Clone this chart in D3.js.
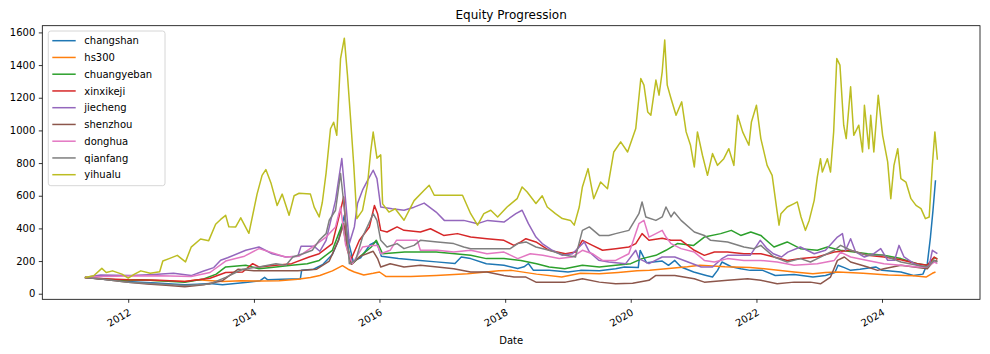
<!DOCTYPE html>
<html><head><meta charset="utf-8">
<script src="https://cdn.jsdelivr.net/npm/d3@7"></script>
<style>body{margin:0;background:#fff}svg{display:block;font-family:"DejaVu Sans",sans-serif}</style>
</head><body><svg id="c" width="990" height="354"></svg>
<script>
const seriesNames = ["changshan","hs300","chuangyeban","xinxikeji","jiecheng","shenzhou","donghua","qianfang","yihualu"];
const colors = ["#1f77b4","#ff7f0e","#2ca02c","#d62728","#9467bd","#8c564b","#e377c2","#7f7f7f","#bcbd22"];
const yTicks = [0,200,400,600,800,1000,1200,1400,1600];
const xTickYears = [2012,2014,2016,2018,2020,2022,2024];

// [decimal year, value]
const changshan = [[2011.31,100],[2011.45,95],[2011.6,88],[2011.8,82],[2012.0,75],[2012.2,70],[2012.45,65],[2012.7,60],[2012.9,55],[2013.1,58],[2013.3,62],[2013.5,55],[2013.7,62],[2013.9,70],[2014.1,80],[2014.17,100],[2014.22,85],[2014.45,88],[2014.6,90],[2014.74,92],[2014.76,143],[2014.95,150],[2015.1,180],[2015.25,240],[2015.35,330],[2015.44,480],[2015.5,330],[2015.58,200],[2015.7,220],[2015.85,300],[2015.95,320],[2016.03,230],[2016.3,215],[2016.6,205],[2016.9,195],[2017.2,185],[2017.3,225],[2017.45,215],[2017.7,184],[2017.98,174],[2018.2,155],[2018.3,165],[2018.37,185],[2018.45,143],[2018.7,143],[2019.0,133],[2019.2,143],[2019.5,140],[2019.76,153],[2019.9,164],[2020.12,160],[2020.15,265],[2020.25,190],[2020.5,200],[2020.6,174],[2020.7,204],[2020.8,164],[2021.0,133],[2021.2,112],[2021.3,102],[2021.38,143],[2021.45,194],[2021.6,165],[2021.75,153],[2021.9,143],[2022.1,143],[2022.3,112],[2022.6,118],[2022.9,102],[2023.1,112],[2023.25,130],[2023.3,174],[2023.4,160],[2023.5,143],[2023.65,150],[2023.9,164],[2024.0,143],[2024.3,133],[2024.5,112],[2024.65,120],[2024.72,184],[2024.77,347],[2024.81,510],[2024.85,695]];
const hs300 = [[2011.31,100],[2011.6,90],[2011.9,80],[2012.2,85],[2012.5,80],[2012.9,75],[2013.1,85],[2013.5,75],[2013.8,80],[2014.1,78],[2014.4,80],[2014.7,88],[2014.9,100],[2015.05,112],[2015.25,140],[2015.41,172],[2015.5,150],[2015.6,133],[2015.75,115],[2015.9,125],[2016.0,133],[2016.1,106],[2016.5,106],[2016.9,112],[2017.4,122],[2017.9,140],[2018.1,143],[2018.5,120],[2018.9,102],[2019.2,125],[2019.5,122],[2019.8,130],[2020.1,140],[2020.3,143],[2020.56,153],[2020.9,165],[2021.1,174],[2021.5,165],[2021.9,160],[2022.2,150],[2022.6,133],[2022.9,122],[2023.1,130],[2023.3,133],[2023.7,125],[2024.1,115],[2024.5,110],[2024.7,102],[2024.8,125],[2024.85,133]];
const chuangyeban = [[2011.31,100],[2011.6,92],[2011.9,82],[2012.2,85],[2012.5,80],[2012.9,70],[2013.2,90],[2013.4,120],[2013.55,164],[2013.87,174],[2014.08,153],[2014.35,164],[2014.6,174],[2014.85,184],[2015.04,204],[2015.25,266],[2015.35,368],[2015.41,429],[2015.47,300],[2015.57,184],[2015.68,225],[2015.87,286],[2015.95,327],[2016.05,245],[2016.4,255],[2016.9,255],[2017.2,245],[2017.45,235],[2017.7,215],[2017.98,215],[2018.25,204],[2018.5,184],[2018.7,164],[2018.95,153],[2019.23,174],[2019.5,164],[2019.76,174],[2020.0,184],[2020.18,215],[2020.4,235],[2020.56,266],[2020.74,307],[2021.0,296],[2021.17,347],[2021.43,368],[2021.6,388],[2021.75,357],[2021.91,378],[2022.07,357],[2022.28,286],[2022.49,317],[2022.7,276],[2022.97,266],[2023.13,286],[2023.34,266],[2023.77,245],[2024.03,235],[2024.3,215],[2024.56,184],[2024.72,174],[2024.83,220],[2024.88,215]];
const xinxikeji = [[2011.31,100],[2011.6,92],[2012.0,85],[2012.5,82],[2012.9,75],[2013.3,95],[2013.55,130],[2013.82,133],[2013.98,184],[2014.08,164],[2014.35,174],[2014.6,184],[2014.88,225],[2015.04,245],[2015.25,307],[2015.38,511],[2015.43,593],[2015.49,266],[2015.54,204],[2015.68,327],[2015.84,409],[2015.92,540],[2015.97,490],[2016.02,388],[2016.12,378],[2016.28,409],[2016.39,388],[2016.65,378],[2016.81,398],[2017.02,357],[2017.24,368],[2017.45,347],[2017.71,337],[2017.98,327],[2018.14,296],[2018.25,317],[2018.33,337],[2018.49,317],[2018.7,266],[2018.96,245],[2019.12,255],[2019.23,327],[2019.39,296],[2019.55,266],[2019.76,276],[2019.97,286],[2020.08,307],[2020.18,368],[2020.29,327],[2020.5,340],[2020.64,327],[2020.8,327],[2021.01,266],[2021.17,235],[2021.33,255],[2021.54,255],[2021.8,245],[2022.07,245],[2022.28,225],[2022.49,204],[2022.71,215],[2022.97,225],[2023.24,255],[2023.5,266],[2023.77,235],[2024.03,225],[2024.3,208],[2024.56,184],[2024.72,174],[2024.83,225],[2024.88,210]];
const jiecheng = [[2011.31,100],[2011.56,115],[2012.04,111],[2012.4,117],[2012.72,125],[2013.0,111],[2013.2,139],[2013.36,160],[2013.47,205],[2013.58,220],[2013.87,266],[2014.08,286],[2014.29,245],[2014.51,225],[2014.7,230],[2014.75,290],[2014.96,290],[2015.05,260],[2015.15,327],[2015.3,572],[2015.4,828],[2015.46,572],[2015.52,307],[2015.6,409],[2015.65,552],[2015.73,634],[2015.82,700],[2015.9,756],[2015.96,705],[2016.02,531],[2016.2,520],[2016.39,511],[2016.55,530],[2016.71,555],[2016.9,500],[2017.03,449],[2017.34,449],[2017.56,429],[2017.72,449],[2017.98,439],[2018.17,490],[2018.27,511],[2018.37,429],[2018.49,347],[2018.59,307],[2018.75,266],[2018.91,235],[2019.07,245],[2019.18,286],[2019.26,317],[2019.34,256],[2019.49,205],[2019.65,194],[2019.92,184],[2020.08,266],[2020.13,215],[2020.29,184],[2020.5,225],[2020.7,225],[2021.12,164],[2021.3,164],[2021.45,215],[2021.54,235],[2021.9,235],[2022.06,327],[2022.17,276],[2022.27,245],[2022.4,225],[2022.5,255],[2022.7,286],[2022.92,245],[2023.1,266],[2023.29,347],[2023.37,368],[2023.42,266],[2023.5,337],[2023.58,256],[2023.72,225],[2023.87,245],[2023.98,276],[2024.09,205],[2024.2,205],[2024.27,296],[2024.35,225],[2024.51,184],[2024.67,164],[2024.75,170],[2024.8,266],[2024.88,245]];
const shenzhou = [[2011.31,100],[2011.6,88],[2012.0,70],[2012.3,60],[2012.6,52],[2012.9,42],[2013.2,55],[2013.5,80],[2013.75,150],[2014.0,140],[2014.3,140],[2014.7,140],[2015.0,150],[2015.2,200],[2015.35,330],[2015.43,430],[2015.55,180],[2015.7,230],[2015.9,260],[2015.97,215],[2016.02,164],[2016.17,184],[2016.39,164],[2016.65,174],[2016.92,164],[2017.18,153],[2017.45,133],[2017.71,133],[2017.98,112],[2018.14,102],[2018.33,102],[2018.49,71],[2018.96,71],[2019.12,82],[2019.23,92],[2019.5,71],[2019.76,61],[2020.03,64],[2020.29,82],[2020.4,112],[2020.7,112],[2021.01,92],[2021.17,71],[2021.54,82],[2021.86,92],[2022.07,82],[2022.33,61],[2022.6,71],[2022.86,71],[2023.02,61],[2023.18,102],[2023.29,204],[2023.4,225],[2023.5,194],[2023.77,164],[2023.93,143],[2024.03,153],[2024.3,174],[2024.51,164],[2024.72,153],[2024.83,204],[2024.88,200]];
const donghua = [[2011.31,100],[2011.6,105],[2012.0,108],[2012.5,110],[2013.0,105],[2013.3,130],[2013.55,200],[2013.85,230],[2014.08,276],[2014.3,250],[2014.5,225],[2014.72,230],[2014.93,286],[2015.15,347],[2015.3,409],[2015.38,531],[2015.46,300],[2015.57,184],[2015.73,286],[2015.89,296],[2015.97,296],[2016.02,245],[2016.17,266],[2016.27,327],[2016.6,327],[2016.65,266],[2016.92,266],[2017.18,255],[2017.45,266],[2017.71,245],[2017.98,255],[2018.2,215],[2018.4,245],[2018.6,235],[2018.86,215],[2019.07,225],[2019.23,266],[2019.39,245],[2019.55,204],[2019.76,204],[2019.97,245],[2020.13,429],[2020.21,449],[2020.29,347],[2020.4,368],[2020.5,388],[2020.56,347],[2020.64,307],[2020.8,276],[2021.01,255],[2021.17,204],[2021.33,194],[2021.54,215],[2021.8,204],[2022.07,204],[2022.33,194],[2022.6,174],[2022.97,184],[2023.24,204],[2023.34,255],[2023.5,225],[2023.77,204],[2024.03,184],[2024.3,174],[2024.56,164],[2024.72,164],[2024.83,194],[2024.88,184]];
const qianfang = [[2011.31,100],[2011.6,88],[2012.0,70],[2012.5,60],[2012.9,50],[2013.3,60],[2013.55,100],[2013.82,150],[2014.08,164],[2014.35,184],[2014.51,174],[2014.62,225],[2014.78,245],[2014.93,266],[2015.04,327],[2015.15,368],[2015.2,450],[2015.3,511],[2015.38,736],[2015.43,560],[2015.48,368],[2015.52,184],[2015.62,204],[2015.73,347],[2015.83,429],[2015.9,490],[2015.96,449],[2016.02,327],[2016.12,286],[2016.28,307],[2016.39,276],[2016.55,296],[2016.65,327],[2016.92,317],[2017.18,307],[2017.34,286],[2017.45,276],[2018.08,276],[2018.2,307],[2018.33,317],[2018.49,286],[2018.7,266],[2018.96,235],[2019.12,225],[2019.23,388],[2019.34,409],[2019.5,357],[2019.65,357],[2019.76,368],[2019.97,388],[2020.13,490],[2020.18,562],[2020.24,470],[2020.4,449],[2020.5,470],[2020.56,531],[2020.64,470],[2020.69,500],[2020.8,449],[2021.01,378],[2021.17,357],[2021.27,327],[2021.54,317],[2021.8,286],[2021.96,276],[2022.07,296],[2022.28,225],[2022.49,194],[2022.7,215],[2022.86,194],[2022.97,215],[2023.24,266],[2023.34,296],[2023.5,266],[2023.77,235],[2024.03,235],[2024.3,194],[2024.56,174],[2024.72,164],[2024.83,204],[2024.88,194]];
const yihualu = [[2011.31,100],[2011.45,110],[2011.58,155],[2011.65,130],[2011.75,140],[2011.9,120],[2012.0,95],[2012.1,120],[2012.2,140],[2012.35,125],[2012.5,135],[2012.55,200],[2012.65,215],[2012.78,235],[2012.91,195],[2013.0,285],[2013.15,335],[2013.28,325],[2013.39,425],[2013.47,455],[2013.55,480],[2013.6,410],[2013.71,409],[2013.79,465],[2013.92,370],[2014.05,610],[2014.13,725],[2014.19,760],[2014.27,680],[2014.37,540],[2014.45,610],[2014.56,480],[2014.64,600],[2014.72,615],[2014.9,610],[2014.96,530],[2015.04,470],[2015.09,560],[2015.15,740],[2015.22,1010],[2015.27,1050],[2015.32,970],[2015.38,1440],[2015.44,1565],[2015.49,1340],[2015.54,1070],[2015.59,790],[2015.64,460],[2015.73,510],[2015.81,670],[2015.86,870],[2015.9,990],[2015.96,830],[2016.02,850],[2016.05,550],[2016.15,500],[2016.25,520],[2016.39,450],[2016.55,570],[2016.71,633],[2016.79,664],[2016.87,603],[2017.32,603],[2017.45,490],[2017.56,420],[2017.66,490],[2017.77,511],[2017.88,470],[2018.03,531],[2018.19,582],[2018.27,654],[2018.35,623],[2018.49,552],[2018.59,600],[2018.67,531],[2018.8,490],[2018.91,460],[2019.04,449],[2019.1,420],[2019.18,531],[2019.23,654],[2019.32,766],[2019.41,582],[2019.52,684],[2019.63,643],[2019.73,868],[2019.84,930],[2019.95,868],[2020.08,1011],[2020.16,1318],[2020.21,1277],[2020.27,1113],[2020.32,1093],[2020.4,1308],[2020.45,1216],[2020.5,1359],[2020.54,1553],[2020.58,1277],[2020.64,1195],[2020.72,1093],[2020.81,1175],[2020.88,991],[2020.95,909],[2021.01,776],[2021.06,991],[2021.14,848],[2021.22,725],[2021.3,858],[2021.38,786],[2021.48,827],[2021.56,888],[2021.64,786],[2021.7,1093],[2021.78,991],[2021.88,909],[2021.92,1052],[2022.0,1154],[2022.07,950],[2022.17,786],[2022.25,725],[2022.33,500],[2022.36,420],[2022.39,490],[2022.49,531],[2022.6,552],[2022.65,562],[2022.71,470],[2022.78,388],[2022.84,449],[2022.92,572],[2022.97,715],[2023.02,827],[2023.05,745],[2023.13,827],[2023.18,745],[2023.23,991],[2023.28,1440],[2023.33,1400],[2023.39,1032],[2023.43,950],[2023.5,1267],[2023.55,970],[2023.63,1032],[2023.69,868],[2023.72,1154],[2023.79,888],[2023.82,1093],[2023.87,868],[2023.94,1216],[2024.01,970],[2024.09,807],[2024.14,582],[2024.19,786],[2024.25,888],[2024.3,705],[2024.38,684],[2024.46,582],[2024.54,541],[2024.62,521],[2024.69,460],[2024.75,470],[2024.8,786],[2024.84,991],[2024.88,820]];

const allSeries = [changshan,hs300,chuangyeban,xinxikeji,jiecheng,shenzhou,donghua,qianfang,yihualu];

function toDate(y){const yr=Math.floor(y);const s=Date.UTC(yr,0,1),e=Date.UTC(yr+1,0,1);return new Date(s+(y-yr)*(e-s));}

const svg=d3.select("#c");
const L=42.3,R=980,T=25.7,B=299.3;
const all=allSeries.flat();
const xExt=d3.extent(all,d=>d[0]);const xPad=(xExt[1]-xExt[0])*0.05;
const yExt=d3.extent(all,d=>d[1]);const yPad=(yExt[1]-yExt[0])*0.05;
const x=d3.scaleUtc().domain([toDate(xExt[0]-xPad),toDate(xExt[1]+xPad)]).range([L,R]);
const y=d3.scaleLinear().domain([yExt[0]-yPad,yExt[1]+yPad]).range([B,T]);

svg.append("text").attr("x",(L+R)/2).attr("y",19).attr("text-anchor","middle").attr("font-size",12).text("Equity Progression");

const line=d3.line().x(d=>x(toDate(d[0]))).y(d=>y(d[1]));
const g=svg.append("g");
allSeries.forEach((s,i)=>{
  g.append("path").datum(s).attr("d",line).attr("fill","none").attr("stroke",colors[i]).attr("stroke-width",1.5).attr("stroke-linejoin","round");
});

// axes
const yAxis=svg.append("g").attr("transform",`translate(${L},0)`).call(d3.axisLeft(y).tickValues(yTicks).tickFormat(d3.format("d")).tickSize(3.5).tickPadding(3.5).tickSizeOuter(0));
const xAxis=svg.append("g").attr("transform",`translate(0,${B})`).call(d3.axisBottom(x).tickValues(xTickYears.map(v=>new Date(Date.UTC(v,0,1)))).tickFormat(d3.utcFormat("%Y")).tickSize(3.5).tickSizeOuter(0));
[yAxis,xAxis].forEach(a=>{a.select(".domain").remove();a.selectAll("line").attr("stroke","#000").attr("stroke-width",0.8);a.selectAll("text").attr("font-size",10).attr("fill","#000").attr("font-family","DejaVu Sans");});
xAxis.selectAll("text").attr("text-anchor","end").attr("y",0).attr("dy",0).attr("transform","translate(3,15) rotate(-30)");

svg.append("rect").attr("x",L).attr("y",T).attr("width",R-L).attr("height",B-T).attr("fill","none").attr("stroke","#000").attr("stroke-width",0.8);

svg.append("text").attr("x",(L+R)/2).attr("y",344).attr("text-anchor","middle").attr("font-size",10).text("Date");

// legend
const lg=svg.append("g");
lg.append("rect").attr("x",48.3).attr("y",31).attr("width",116.7).attr("height",154.7).attr("rx",2.5).attr("fill","#fff").attr("fill-opacity",0.8).attr("stroke","#cccccc").attr("stroke-width",0.8);
seriesNames.forEach((n,i)=>{
  const yy=40.7+i*16.75;
  lg.append("line").attr("x1",52.3).attr("x2",75.7).attr("y1",yy).attr("y2",yy).attr("stroke",colors[i]).attr("stroke-width",1.5);
  lg.append("text").attr("x",84.3).attr("y",yy+3.6).attr("font-size",10).text(n);
});
</script></body></html>
